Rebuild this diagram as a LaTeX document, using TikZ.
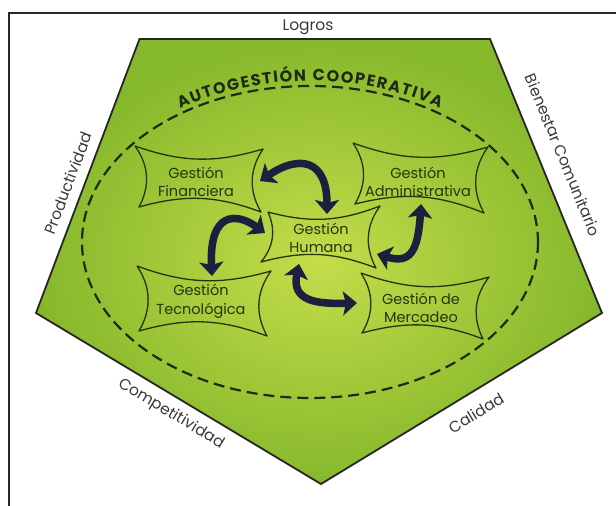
\documentclass[tikz,border=0pt]{standalone}
\usepackage{fontspec}
\setmainfont{Poppins}
\usetikzlibrary{arrows.meta,decorations.text}
\definecolor{pin}{HTML}{C4DD4A}
\definecolor{pout}{HTML}{86B82C}
\definecolor{navy}{HTML}{1C1F3D}
\definecolor{olive}{HTML}{27340F}
\definecolor{lbl}{HTML}{3A3A3A}
\definecolor{dashcol}{HTML}{1F2A14}
\begin{document}
\begin{tikzpicture}[x=1pt,y=-1pt,
  sidelbl/.style={font=\fontsize{15.5}{17}\selectfont, text=lbl, inner sep=0pt},
  boxtxt/.style={font=\fontsize{14.5}{18.5}\selectfont, text=olive, align=center, inner sep=0pt},
  cushion/.style={draw=olive, line width=1.3pt, line join=round},
  bigarrow/.style={draw=navy, line width=7.5pt,
    {Stealth[length=14pt,width=24pt,inset=3pt]}-{Stealth[length=14pt,width=24pt,inset=3pt]}},
]
\useasboundingbox (0,0) rectangle (616,506);
\fill[white] (0,0) rectangle (616,506);
\draw[line width=2pt, draw=black!85] (9,520) -- (9,13) -- (630,13);

% pentagon
\coordinate (pTL) at (139.5,39);
\coordinate (pTR) at (490,39);
\coordinate (pR) at (602,313);
\coordinate (pB) at (321,484);
\coordinate (pL) at (36,313);
\shade[inner color=pin, outer color=pout] (pTL) -- (pTR) -- (pR) -- (pB) -- (pL) -- cycle;
\draw[line width=1.8pt, draw=black!85, line join=miter] (pTL) -- (pTR) -- (pR) -- (pB) -- (pL) -- cycle;

% side labels
\node[sidelbl] (logros) at (308,27) {Logros};
\node[sidelbl, rotate=69.3] (prod) at (68,183) {Productividad};
\node[sidelbl, rotate=-67.8] (bien) at (563,155) {Bienestar Comunitario};
\node[sidelbl, rotate=-31.2] (comp) at (171,414) {Competitividad};
\node[sidelbl, rotate=31.4] (cal) at (476,413) {Calidad};

% dashed ellipse
\draw[draw=dashcol, line width=2.2pt, dash pattern=on 11pt off 6pt] (310,242) ellipse [x radius=228, y radius=156];

% title along arc
\path[decorate, decoration={text along path, text align={fit to path},
  text color=dashcol,
  text={|\bfseries\fontsize{16}{16}\selectfont|AUTOGESTIÓN COOPERATIVA}}]
  (310,242) ++(236:232 and 161) arc[start angle=236, end angle=304, x radius=232, y radius=161];

% cushion boxes
\draw[cushion] (135,146) to[bend right=18] (263,149) to[bend right=32] (261,212) to[bend right=18] (139,207) to[bend right=32] (135,146);
\draw[cushion] (353,143) to[bend right=18] (488,147) to[bend right=32] (484,213) to[bend right=18] (355,204) to[bend right=32] (353,143);
\draw[cushion] (268,212) to[bend right=18] (380,206) to[bend right=32] (376,268) to[bend right=18] (261,262) to[bend right=32] (268,212);
\draw[cushion] (137,266) to[bend right=18] (271,271) to[bend right=32] (267,336) to[bend right=18] (139,331) to[bend right=32] (137,266);
\draw[cushion] (361,273) to[bend right=18] (489,277) to[bend right=32] (483,339) to[bend right=18] (362,333) to[bend right=32] (361,273);

\node[boxtxt] (fin) at (196,182) {Gestión\\Financiera};
\node[boxtxt] (adm) at (418,182) {Gestión\\Administrativa};
\node[boxtxt] (hum) at (321,238) {Gestión\\Humana};
\node[boxtxt] (tec) at (201,301) {Gestión\\Tecnológica};
\node[boxtxt] (mer) at (421,308) {Gestión de\\Mercadeo};

% arrows
\coordinate (a1s) at (260,181);
\coordinate (a1e) at (327,214);
\coordinate (a2s) at (265,233);
\coordinate (a2e) at (212,276);
\coordinate (a3s) at (421,204);
\coordinate (a3e) at (377,254);
\coordinate (a4s) at (299,264);
\coordinate (a4e) at (357,303);
\draw[bigarrow] (a1s) .. controls (300,154) and (327,160) .. (a1e);
\draw[bigarrow] (a2s) .. controls (236,212) and (209,212) .. (a2e);
\draw[bigarrow] (a3s) .. controls (418,252) and (410,264) .. (a3e);
\draw[bigarrow] (a4s) .. controls (291,302) and (318,304) .. (a4e);
\end{tikzpicture}
\end{document}
